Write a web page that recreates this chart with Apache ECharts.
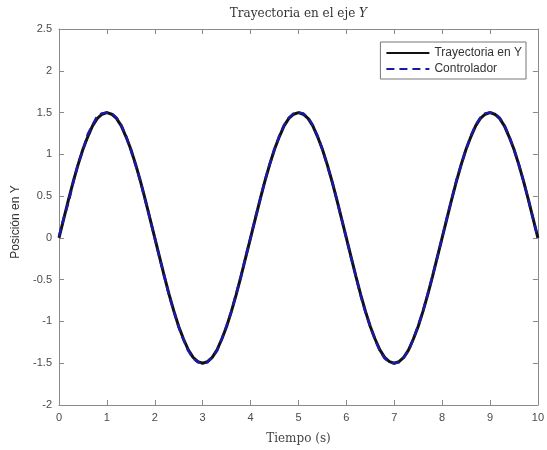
<!DOCTYPE html>
<html>
<head>
<meta charset="utf-8">
<script src="https://cdn.jsdelivr.net/npm/echarts@6/dist/echarts.min.js"></script>
<style>
  html, body { margin: 0; padding: 0; background: #fff; }
  #chart { width: 547px; height: 450px; }
</style>
</head>
<body>
<div id="chart"></div>
<script>
// Time samples (s)
const tiempo = [
  0.0, 0.1, 0.2, 0.3, 0.4, 0.5, 0.6, 0.7, 0.8, 0.9,
  1.0, 1.1, 1.2, 1.3, 1.4, 1.5, 1.6, 1.7, 1.8, 1.9,
  2.0, 2.1, 2.2, 2.3, 2.4, 2.5, 2.6, 2.7, 2.8, 2.9,
  3.0, 3.1, 3.2, 3.3, 3.4, 3.5, 3.6, 3.7, 3.8, 3.9,
  4.0, 4.1, 4.2, 4.3, 4.4, 4.5, 4.6, 4.7, 4.8, 4.9,
  5.0, 5.1, 5.2, 5.3, 5.4, 5.5, 5.6, 5.7, 5.8, 5.9,
  6.0, 6.1, 6.2, 6.3, 6.4, 6.5, 6.6, 6.7, 6.8, 6.9,
  7.0, 7.1, 7.2, 7.3, 7.4, 7.5, 7.6, 7.7, 7.8, 7.9,
  8.0, 8.1, 8.2, 8.3, 8.4, 8.5, 8.6, 8.7, 8.8, 8.9,
  9.0, 9.1, 9.2, 9.3, 9.4, 9.5, 9.6, 9.7, 9.8, 9.9,
  10.0
];

// Reference trajectory in Y
const trayectoria = [
  0.00, 0.23, 0.46, 0.68, 0.88, 1.06, 1.21, 1.34, 1.43, 1.48,
  1.50, 1.48, 1.43, 1.34, 1.21, 1.06, 0.88, 0.68, 0.46, 0.23,
  0.00, -0.23, -0.46, -0.68, -0.88, -1.06, -1.21, -1.34, -1.43, -1.48,
  -1.50, -1.48, -1.43, -1.34, -1.21, -1.06, -0.88, -0.68, -0.46, -0.23,
  0.00, 0.23, 0.46, 0.68, 0.88, 1.06, 1.21, 1.34, 1.43, 1.48,
  1.50, 1.48, 1.43, 1.34, 1.21, 1.06, 0.88, 0.68, 0.46, 0.23,
  0.00, -0.23, -0.46, -0.68, -0.88, -1.06, -1.21, -1.34, -1.43, -1.48,
  -1.50, -1.48, -1.43, -1.34, -1.21, -1.06, -0.88, -0.68, -0.46, -0.23,
  0.00, 0.23, 0.46, 0.68, 0.88, 1.06, 1.21, 1.34, 1.43, 1.48,
  1.50, 1.48, 1.43, 1.34, 1.21, 1.06, 0.88, 0.68, 0.46, 0.23,
  0.00
];

// Controller output in Y
const controlador = [
  0.02, 0.24, 0.43, 0.67, 0.89, 1.05, 1.24, 1.35, 1.46, 1.49,
  1.50, 1.49, 1.44, 1.35, 1.22, 1.05, 0.87, 0.68, 0.45, 0.23,
  0.00, -0.24, -0.46, -0.69, -0.88, -1.07, -1.22, -1.35, -1.44, -1.49,
  -1.50, -1.49, -1.43, -1.35, -1.21, -1.05, -0.88, -0.67, -0.46, -0.22,
  0.00, 0.24, 0.46, 0.69, 0.88, 1.06, 1.22, 1.35, 1.44, 1.49,
  1.50, 1.49, 1.44, 1.35, 1.22, 1.06, 0.87, 0.68, 0.46, 0.23,
  0.00, -0.24, -0.46, -0.69, -0.89, -1.06, -1.22, -1.35, -1.44, -1.49,
  -1.50, -1.49, -1.43, -1.35, -1.21, -1.05, -0.88, -0.67, -0.46, -0.23,
  0.00, 0.24, 0.46, 0.69, 0.88, 1.06, 1.22, 1.35, 1.44, 1.49,
  1.50, 1.49, 1.44, 1.35, 1.22, 1.06, 0.88, 0.68, 0.46, 0.23,
  0.00
];

const axisGray = '#8a8a8a';
const labelGray = '#4a4a4a';
const serif = 'DejaVu Serif, Liberation Serif, serif';
const sans = 'Liberation Sans, Arial, sans-serif';

const pairs = (xs, ys) => xs.map((x, i) => [x, ys[i]]);

const chart = echarts.init(document.getElementById('chart'), null, { renderer: 'canvas' });

const commonTick = { show: true, inside: true, length: 5, lineStyle: { color: axisGray, width: 1 } };
const axisLine = { show: true, onZero: false, lineStyle: { color: axisGray, width: 1 } };

chart.setOption({
  animation: false,
  backgroundColor: '#ffffff',
  grid: { left: 59, right: 8, top: 29, bottom: 43, containLabel: false },
  legend: {
    right: 21,
    top: 42,
    orient: 'vertical',
    backgroundColor: '#ffffff',
    borderColor: '#777777',
    borderWidth: 1,
    padding: [5, 4, 4, 5],
    itemGap: 4,
    itemWidth: 43,
    itemHeight: 14,
    itemStyle: { opacity: 0 },
    textStyle: { fontFamily: sans, fontSize: 12, color: '#333' },
    data: ['Trayectoria en Y', 'Controlador']
  },
  xAxis: [
    {
      type: 'value', position: 'bottom', min: 0, max: 10, interval: 1,
      name: 'Tiempo (s)', nameLocation: 'middle', nameGap: 28,
      nameTextStyle: { fontFamily: serif, fontSize: 12, color: '#444' },
      axisLine: axisLine, axisTick: commonTick,
      axisLabel: { color: labelGray, fontFamily: sans, fontSize: 11, margin: 7 },
      splitLine: { show: false }
    },
    {
      type: 'value', position: 'top', min: 0, max: 10, interval: 1,
      name: 'Trayectoria en el eje {i|Y}', nameLocation: 'middle', nameGap: 9,
      nameTextStyle: {
        fontFamily: serif, fontSize: 12, color: '#333',
        rich: { i: { fontFamily: serif, fontStyle: 'italic', fontSize: 12, color: '#333' } }
      },
      axisLine: axisLine, axisTick: commonTick, axisLabel: { show: false }, splitLine: { show: false }
    }
  ],
  yAxis: [
    {
      type: 'value', position: 'left', min: -2, max: 2.5, interval: 0.5,
      name: 'Posición en Y', nameLocation: 'middle', nameGap: 36,
      nameTextStyle: { fontFamily: sans, fontSize: 12, color: '#333', padding: [0, 0, 0, -10] },
      axisLine: axisLine, axisTick: commonTick,
      axisLabel: { color: labelGray, fontFamily: sans, fontSize: 11, margin: 7 },
      splitLine: { show: false }
    },
    {
      type: 'value', position: 'right', min: -2, max: 2.5, interval: 0.5,
      axisLine: axisLine, axisTick: commonTick, axisLabel: { show: false }, splitLine: { show: false }
    }
  ],
  series: [
    {
      name: 'Trayectoria en Y', type: 'line', xAxisIndex: 0, yAxisIndex: 0,
      data: pairs(tiempo, trayectoria),
      showSymbol: false, symbol: 'none',
      lineStyle: { color: '#111111', width: 3, type: 'solid' },
      itemStyle: { color: '#111111' },
      z: 2
    },
    {
      name: 'Controlador', type: 'line', xAxisIndex: 0, yAxisIndex: 0,
      data: pairs(tiempo, controlador),
      showSymbol: false, symbol: 'none',
      lineStyle: { color: '#1a1aa6', width: 2.5, type: [8, 5] },
      itemStyle: { color: '#1a1aa6' },
      z: 3
    }
  ]
});
</script>
</body>
</html>
